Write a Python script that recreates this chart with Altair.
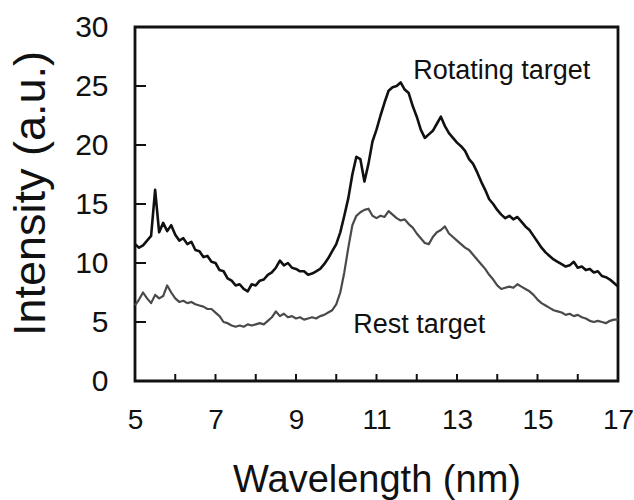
import altair as alt
import pandas as pd

# sampling grid of the spectra (nm)
wavelength = [round(5.0 + 0.1 * i, 1) for i in range(121)]

rotating = [
    11.6, 11.3, 11.5, 11.9, 12.3, 16.2, 12.6, 13.4, 12.7, 13.2,
    12.4, 11.9, 12.1, 11.6, 11.8, 11.1, 11.0, 10.5, 10.6, 10.1,
    10.0, 9.4, 9.3, 8.7, 8.5, 8.1, 8.2, 7.8, 7.6, 8.2,
    8.1, 8.5, 8.6, 9.0, 9.2, 9.6, 10.2, 9.8, 10.0, 9.6,
    9.5, 9.3, 9.3, 9.0, 9.1, 9.3, 9.5, 9.9, 10.4, 11.0,
    11.6, 12.6, 14.0, 15.5, 17.5, 19.0, 18.8, 16.9, 18.4, 20.3,
    21.3, 22.5, 23.6, 24.6, 24.9, 25.0, 25.3, 24.7, 24.4, 23.3,
    22.4, 21.3, 20.6, 20.9, 21.2, 21.8, 22.4, 21.6, 21.0, 20.6,
    20.2, 19.9, 19.5, 18.8, 18.4, 17.7, 16.9, 16.2, 15.4, 15.0,
    14.5, 14.1, 13.8, 14.0, 13.7, 13.9, 13.5, 13.1, 12.8, 12.3,
    11.8, 11.3, 10.9, 10.6, 10.3, 10.1, 9.9, 9.7, 9.8, 10.1,
    9.6, 9.7, 9.4, 9.5, 9.2, 9.3, 8.9, 8.8, 8.6, 8.3,
    8.0,
]

rest = [
    6.4, 6.9, 7.5, 7.0, 6.6, 7.3, 7.0, 7.2, 8.1, 7.5,
    7.0, 6.7, 6.8, 6.6, 6.7, 6.5, 6.4, 6.3, 6.1, 6.1,
    5.8, 5.5, 5.0, 4.9, 4.7, 4.6, 4.7, 4.6, 4.8, 4.7,
    4.8, 4.9, 4.8, 5.1, 5.4, 5.9, 5.5, 5.7, 5.4, 5.5,
    5.3, 5.4, 5.2, 5.3, 5.4, 5.3, 5.5, 5.6, 5.8, 6.0,
    6.5, 7.5, 9.2, 11.3, 13.2, 14.0, 14.3, 14.5, 14.6, 14.0,
    13.8, 14.0, 13.9, 14.4, 14.1, 13.8, 13.6, 13.7, 13.3, 13.0,
    12.5, 12.1, 11.7, 11.6, 12.2, 12.6, 12.8, 13.1, 12.5, 12.2,
    11.9, 11.6, 11.3, 11.1, 10.7, 10.3, 9.9, 9.5, 9.0, 8.6,
    8.1, 7.8, 7.9, 8.0, 7.9, 8.2, 8.0, 7.8, 7.6, 7.3,
    6.9, 6.6, 6.4, 6.2, 6.0, 5.9, 5.8, 5.6, 5.7, 5.5,
    5.6, 5.4, 5.3, 5.1, 5.0, 5.1, 5.0, 4.9, 5.1, 5.2,
    5.2,
]

series_names = ["Rotating target", "Rest target"]
series_colors = ["#111111", "#4a4a4a"]
series_widths = [2.6, 2.2]

x_tick_labels = [5, 7, 9, 11, 13, 15, 17]
x_minor_ticks = [6, 7, 8, 9, 10, 11, 12, 13, 14, 15, 16]
y_tick_labels = [0, 5, 10, 15, 20, 25, 30]
y_minor_ticks = [5, 10, 15, 20, 25]

label_text = ["Rotating target", "Rest target"]
label_x = [11.91, 10.42]
label_y = [25.6, 4.07]

FONT = "Liberation Sans"
W, H = 483, 354

df = pd.DataFrame({
    "wavelength": wavelength * 2,
    "intensity": rotating + rest,
    "series": [series_names[0]] * len(wavelength) + [series_names[1]] * len(wavelength),
})

xscale = alt.Scale(domain=[5, 17], nice=False, zero=False)
yscale = alt.Scale(domain=[0, 30], nice=False, zero=True)

xaxis = alt.Axis(values=x_tick_labels, title="Wavelength (nm)", tickSize=0,
                 domain=False, grid=False, labelFontSize=28, labelPadding=25,
                 labelFont=FONT, labelColor="#111", titleFont=FONT,
                 titleFontSize=38, titleFontWeight="normal", titleColor="#111",
                 titleY=110, titleBaseline="alphabetic", labelFlush=False)
yaxis = alt.Axis(values=y_tick_labels, title="Intensity (a.u.)", tickSize=0,
                 domain=False, grid=False, labelFontSize=30, labelPadding=27,
                 labelFont=FONT, labelColor="#111", titleFont=FONT,
                 titleFontSize=45, titleFontWeight="normal", titleColor="#111",
                 titleX=-91, titleY=166, titleAngle=270,
                 titleBaseline="alphabetic", titleAlign="center",
                 labelFlush=False)

lines = alt.Chart(df).mark_line(strokeJoin="round").encode(
    x=alt.X("wavelength:Q", scale=xscale, axis=xaxis),
    y=alt.Y("intensity:Q", scale=yscale, axis=yaxis),
    color=alt.Color("series:N", scale=alt.Scale(domain=series_names, range=series_colors),
                    legend=None),
    strokeWidth=alt.StrokeWidth("series:N",
                                scale=alt.Scale(domain=series_names, range=series_widths),
                                legend=None),
    detail="series:N",
)

xt = alt.Chart(pd.DataFrame({"t": x_minor_ticks})).mark_rule(color="#111", strokeWidth=2).encode(
    x=alt.X("t:Q", scale=xscale, axis=xaxis),
    y=alt.value(H),
    y2=alt.value(H - 7),
)

yt = alt.Chart(pd.DataFrame({"t": y_minor_ticks})).mark_rule(color="#111", strokeWidth=2).encode(
    y=alt.Y("t:Q", scale=yscale, axis=yaxis),
    x=alt.value(0),
    x2=alt.value(11),
)

labels = alt.Chart(pd.DataFrame({"label": label_text, "x": label_x, "y": label_y})).mark_text(
    font=FONT, fontSize=27, align="left", baseline="alphabetic", color="#111"
).encode(
    x=alt.X("x:Q", scale=xscale, axis=xaxis),
    y=alt.Y("y:Q", scale=yscale, axis=yaxis),
    text="label:N",
)

chart = alt.layer(lines, xt, yt, labels).properties(
    width=W, height=H,
    autosize=alt.AutoSizeParams(type="none"),
    padding={"left": 135, "top": 27, "right": 16, "bottom": 119},
).configure(background="white").configure_view(stroke="#111", strokeWidth=2.8)

chart.save("out.html", embed_options={"renderer": "svg", "actions": False})
